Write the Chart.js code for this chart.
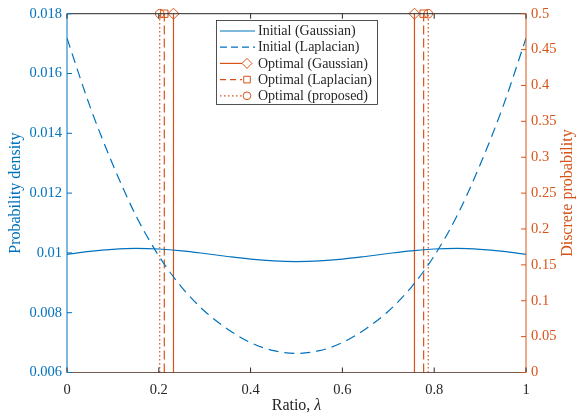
<!DOCTYPE html>
<html>
<head>
<meta charset="utf-8">
<script src="https://cdn.jsdelivr.net/npm/chart.js@4/dist/chart.umd.min.js"></script>
<style>
  html, body { margin: 0; padding: 0; background: #fff; }
  #wrap { width: 576px; height: 420px; }
</style>
</head>
<body>
<div id="wrap"><canvas id="chart" width="576" height="420"></canvas></div>
<script>
// ratio values where the densities were read
const ratio = [0, 0.05, 0.1, 0.15, 0.2, 0.25, 0.3, 0.35, 0.4, 0.45, 0.5,
               0.55, 0.6, 0.65, 0.7, 0.75, 0.8, 0.85, 0.9, 0.95, 1];
const gaussDensity = [0.00995, 0.01005, 0.01012, 0.01015, 0.01013, 0.01007, 0.00998, 0.00988, 0.00979, 0.00973, 0.00971,
                      0.00973, 0.00979, 0.00988, 0.00998, 0.01007, 0.01013, 0.01015, 0.01012, 0.01005, 0.00995];
const laplaceDensity = [0.01718, 0.01490, 0.01295, 0.01125, 0.00990, 0.00885, 0.00805, 0.00745, 0.00700, 0.00673, 0.00664,
                        0.00673, 0.00700, 0.00745, 0.00805, 0.00885, 0.00990, 0.01125, 0.01295, 0.01490, 0.01718];

// optimal discrete points (ratio) and their probabilities
const optGaussian = [0.232, 0.757];
const optLaplacian = [0.212, 0.777];
const optProposed = [0.202, 0.787];
const optProb = [0.5, 0.5];

// ticks
const xTicks = [0, 0.2, 0.4, 0.6, 0.8, 1];
const leftTicks = [0.006, 0.008, 0.01, 0.012, 0.014, 0.016, 0.018];
const rightTicks = [0, 0.05, 0.1, 0.15, 0.2, 0.25, 0.3, 0.35, 0.4, 0.45, 0.5];

const BLUE = '#0072BD';
const ORANGE = '#D95319';
const DARK = '#262626';
const FONT = '"Liberation Serif", "DejaVu Serif", serif';

function curve(ys) {
  return ratio.map((x, i) => ({ x: x, y: ys[i] }));
}
// vertical stems, a null point between them breaks the line
function stems(xs, ps) {
  const out = [];
  xs.forEach((x, i) => {
    if (i > 0) out.push({ x: x, y: null });
    out.push({ x: x, y: 0 });
    out.push({ x: x, y: ps[i] });
  });
  return out;
}

const stemSets = [
  { label: 'Optimal (Gaussian)', xs: optGaussian, dash: [], style: 'rectRot', r: 5.5 },
  { label: 'Optimal (Laplacian)', xs: optLaplacian, dash: [9, 4], style: 'rect', r: 5.2 },
  { label: 'Optimal (proposed)', xs: optProposed, dash: [1.5, 2.5], style: 'circle', r: 4.3 }
];

const datasets = [
  { label: 'Initial (Gaussian)', data: curve(gaussDensity), yAxisID: 'y',
    borderColor: BLUE, borderWidth: 1.2, pointRadius: 0, cubicInterpolationMode: 'monotone' },
  { label: 'Initial (Laplacian)', data: curve(laplaceDensity), yAxisID: 'y',
    borderColor: BLUE, borderWidth: 1.2, borderDash: [10, 6], pointRadius: 0, cubicInterpolationMode: 'monotone' }
];
stemSets.forEach(s => {
  datasets.push({
    label: s.label, data: stems(s.xs, optProb), yAxisID: 'y2',
    borderColor: ORANGE, borderWidth: 1.2, borderDash: s.dash, spanGaps: false, clip: false,
    pointStyle: s.style,
    pointRadius: c => (c.raw && c.raw.y > 0 ? s.r : 0),
    pointHoverRadius: 0,
    pointBorderColor: ORANGE, pointBorderWidth: 1, pointBackgroundColor: 'rgba(0,0,0,0)'
  });
});
// stem baseline
datasets.push({ label: 'baseline', data: [{ x: 0, y: 0 }, { x: 1, y: 0 }], yAxisID: 'y2',
  borderColor: ORANGE, borderWidth: 1, pointRadius: 0 });

const legendItems = [
  { text: 'Initial (Gaussian)', color: BLUE, dash: [], marker: null },
  { text: 'Initial (Laplacian)', color: BLUE, dash: [7, 4], marker: null },
  { text: 'Optimal (Gaussian)', color: ORANGE, dash: [], marker: stemSets[0] },
  { text: 'Optimal (Laplacian)', color: ORANGE, dash: [6, 4], marker: stemSets[1] },
  { text: 'Optimal (proposed)', color: ORANGE, dash: [1.5, 2.5], marker: stemSets[2] }
];

function drawMarker(ctx, style, r, x, y) {
  ctx.beginPath();
  if (style === 'rectRot') {
    ctx.moveTo(x - r, y); ctx.lineTo(x, y - r); ctx.lineTo(x + r, y); ctx.lineTo(x, y + r); ctx.closePath();
  } else if (style === 'rect') {
    const h = r * Math.SQRT1_2;
    ctx.rect(x - h, y - h, 2 * h, 2 * h);
  } else {
    ctx.arc(x, y, r, 0, Math.PI * 2);
  }
  ctx.stroke();
}

const frame = {
  id: 'frame',
  afterDatasetsDraw(chart) {
    const ctx = chart.ctx, a = chart.chartArea;
    const sx = chart.scales.x, yl = chart.scales.y, yr = chart.scales.y2;
    ctx.save();
    ctx.setLineDash([]);
    ctx.lineWidth = 1;
    // box
    ctx.strokeStyle = DARK;
    ctx.beginPath(); ctx.moveTo(a.left, a.top); ctx.lineTo(a.right, a.top); ctx.stroke();
    ctx.strokeStyle = 'rgba(38,38,38,0.6)';
    ctx.beginPath(); ctx.moveTo(a.left, a.bottom); ctx.lineTo(a.right, a.bottom); ctx.stroke();
    ctx.strokeStyle = BLUE;
    ctx.beginPath(); ctx.moveTo(a.left, a.top); ctx.lineTo(a.left, a.bottom); ctx.stroke();
    ctx.strokeStyle = ORANGE;
    ctx.beginPath(); ctx.moveTo(a.right, a.top); ctx.lineTo(a.right, a.bottom); ctx.stroke();
    // inward ticks
    const tl = 5;
    ctx.strokeStyle = DARK;
    xTicks.forEach(v => {
      const px = sx.getPixelForValue(v);
      ctx.beginPath();
      ctx.moveTo(px, a.bottom); ctx.lineTo(px, a.bottom - tl);
      ctx.moveTo(px, a.top); ctx.lineTo(px, a.top + tl);
      ctx.stroke();
    });
    ctx.strokeStyle = BLUE;
    leftTicks.forEach(v => {
      const py = yl.getPixelForValue(v);
      ctx.beginPath(); ctx.moveTo(a.left, py); ctx.lineTo(a.left + tl, py); ctx.stroke();
    });
    ctx.strokeStyle = ORANGE;
    rightTicks.forEach(v => {
      const py = yr.getPixelForValue(v);
      ctx.beginPath(); ctx.moveTo(a.right, py); ctx.lineTo(a.right - tl, py); ctx.stroke();
    });
    // axis titles
    const mid = (a.top + a.bottom) / 2;
    ctx.font = '16px ' + FONT;
    ctx.textAlign = 'center';
    ctx.textBaseline = 'middle';
    ctx.fillStyle = BLUE;
    ctx.save(); ctx.translate(16, mid); ctx.rotate(-Math.PI / 2); ctx.fillText('Probability density', 0, 0); ctx.restore();
    ctx.fillStyle = ORANGE;
    ctx.save(); ctx.translate(568, mid); ctx.rotate(-Math.PI / 2); ctx.fillText('Discrete probability', 0, 0); ctx.restore();
    ctx.fillStyle = DARK;
    const t1 = 'Ratio, ', t2 = 'λ';
    ctx.font = '16px ' + FONT;
    const w1 = ctx.measureText(t1).width;
    ctx.font = 'italic 16px ' + FONT;
    const w2 = ctx.measureText(t2).width;
    const cx = (a.left + a.right) / 2, x0 = cx - (w1 + w2) / 2;
    ctx.textAlign = 'left';
    ctx.font = '16px ' + FONT;
    ctx.fillText(t1, x0, 406);
    ctx.font = 'italic 16px ' + FONT;
    ctx.fillText(t2, x0 + w1, 406);
    // legend
    const lx = 216, ly = 20, lw = 161, lh = 84;
    ctx.fillStyle = '#fff';
    ctx.fillRect(lx, ly, lw, lh);
    ctx.strokeStyle = DARK;
    ctx.lineWidth = 0.8;
    ctx.strokeRect(lx + 0.5, ly + 0.5, lw, lh);
    ctx.font = '14px ' + FONT;
    ctx.textAlign = 'left';
    ctx.textBaseline = 'middle';
    legendItems.forEach((it, i) => {
      const y = ly + 11 + i * 16.2;
      ctx.strokeStyle = it.color;
      ctx.lineWidth = 1.2;
      ctx.setLineDash(it.dash);
      ctx.beginPath();
      ctx.moveTo(lx + 4, y);
      ctx.lineTo(it.marker ? lx + 26 : lx + 39, y);
      ctx.stroke();
      ctx.setLineDash([]);
      if (it.marker) {
        ctx.lineWidth = 1;
        drawMarker(ctx, it.marker.style, it.marker.r * 0.9, lx + 31, y);
      }
      ctx.fillStyle = DARK;
      ctx.fillText(it.text, lx + 42, y + 0.5);
    });
    ctx.restore();
  }
};

new Chart(document.getElementById('chart'), {
  type: 'line',
  data: { datasets: datasets },
  plugins: [frame],
  options: {
    responsive: false,
    animation: false,
    devicePixelRatio: 1,
    layout: { padding: { top: 12.5, left: 0, right: 0, bottom: 0 } },
    plugins: { legend: { display: false }, tooltip: { enabled: false } },
    scales: {
      x: {
        type: 'linear', min: 0, max: 1, position: 'bottom',
        afterBuildTicks: s => { s.ticks = xTicks.map(v => ({ value: v })); },
        afterFit: s => { s.height = 47.5; },
        grid: { display: false, drawTicks: false }, border: { display: false },
        ticks: { color: DARK, padding: 9, maxRotation: 0, font: { family: FONT, size: 14.5 },
                 callback: v => String(+v.toFixed(2)) }
      },
      y: {
        type: 'linear', position: 'left', min: 0.006, max: 0.018,
        afterBuildTicks: s => { s.ticks = leftTicks.map(v => ({ value: v })); },
        afterFit: s => { s.width = 67; },
        grid: { display: false, drawTicks: false }, border: { display: false },
        ticks: { color: BLUE, padding: 5, font: { family: FONT, size: 14.5 },
                 callback: v => String(+v.toFixed(4)) }
      },
      y2: {
        type: 'linear', position: 'right', min: 0, max: 0.5,
        afterBuildTicks: s => { s.ticks = rightTicks.map(v => ({ value: v })); },
        afterFit: s => { s.width = 50; },
        grid: { display: false, drawTicks: false }, border: { display: false },
        ticks: { color: ORANGE, padding: 5, font: { family: FONT, size: 14.5 },
                 callback: v => String(+v.toFixed(3)) }
      }
    }
  }
});
</script>
</body>
</html>
